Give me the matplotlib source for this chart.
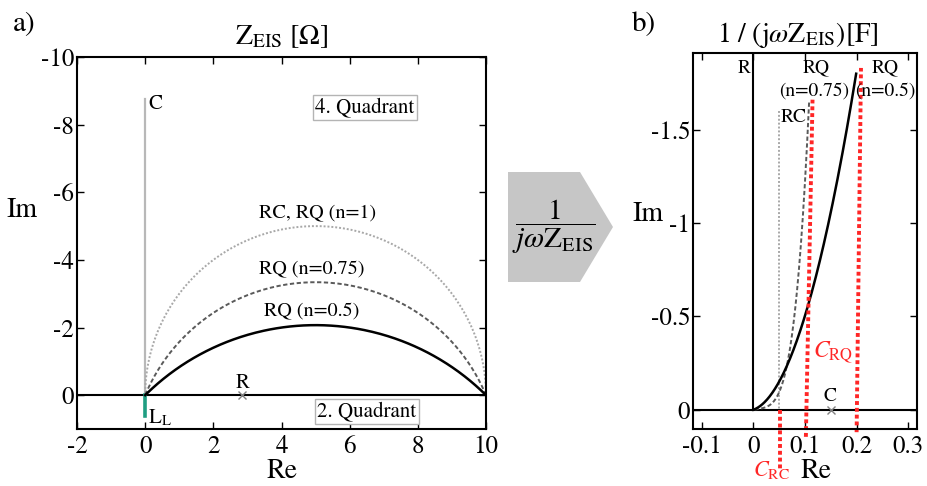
import numpy as np
import matplotlib.pyplot as plt
from matplotlib.patches import Polygon

plt.rcParams['font.family'] = 'STIXGeneral'
plt.rcParams['mathtext.fontset'] = 'stix'
plt.rcParams['axes.unicode_minus'] = False

# Parameter der Ersatzschaltbilder
R = 10.0
n_rq = [1.0, 0.75, 0.5]
Q_rq = [0.05, 0.0584, 0.0704]
labels_rq = ['RC, RQ (n=1)', 'RQ (n=0.75)', 'RQ (n=0.5)']
w_min_adm = 0.0625

C_top = -8.75        # Kapazitaet (Nyquist), Ende der Linie
L_bottom = 0.62      # Induktivitaet
R_marker_z = 2.85
C_marker_adm = 0.15

# C-Linien im Admittanzplot (Re, Im) Anfang/Ende
c_rc_line = ([0.0518, 0.0518], [0.0, 0.32])
c_rq075_line = ([0.1017, 0.1146], [0.145, -1.66])
c_rq05_line = ([0.2, 0.2085], [0.12, -1.83])

xt_z = [-2, 0, 2, 4, 6, 8, 10]
yt_z = [-10, -8, -6, -4, -2, 0]
xt_adm = [-0.1, 0, 0.1, 0.2, 0.3]
xtl_adm = ['-0.1', '0', '0.1', '0.2', '0.3']
yt_adm = [-1.5, -1, -0.5, 0]
ytl_adm = ['-1.5', '-1', '-0.5', '0']


def z_rq(w, r, q, n):
    return r / (1 + r * q * (1j * w) ** n)


colors = ['#a8a8a8', '#5a5a5a', 'k']
styles = [(0, (1, 1)), (0, (2.2, 1.3)), '-']
widths = [1.4, 1.4, 1.8]
red = '#ff2626'

fig = plt.figure(figsize=(9.28, 4.86), dpi=100)
ax1 = fig.add_axes([77 / 928, 57 / 486, 409 / 928, 372 / 486])
ax2 = fig.add_axes([693 / 928, 57 / 486, 224 / 928, 376 / 486])

w_z = np.logspace(-8, 8, 800)
w_adm = np.logspace(np.log10(w_min_adm), 7, 800)

# a) Nyquist-Darstellung Z_EIS
ax1.axhline(0, color='k', lw=1.5)
ax1.plot([0, 0], [0, C_top], color='#b8b8b8', lw=1.6)
ax1.plot([0, 0], [0, L_bottom], color='#1f9e82', lw=2.6)
for n, q, c, ls, lw in zip(n_rq, Q_rq, colors, styles, widths):
    z = z_rq(w_z, R, q, n)
    ax1.plot(z.real, z.imag, color=c, ls=ls, lw=lw)
ax1.plot(R_marker_z, 0, 'x', color='#808080', ms=6, mew=1)

ax1.text(0.08, -8.6, 'C', fontsize=15, va='center', ha='left')
ax1.text(5.07, -5.4, labels_rq[0], fontsize=14.5, ha='center', va='center')
ax1.text(4.9, -3.7, labels_rq[1], fontsize=14.5, ha='center', va='center')
ax1.text(4.9, -2.47, labels_rq[2], fontsize=14.5, ha='center', va='center')
ax1.text(2.86, -0.36, 'R', fontsize=15, ha='center', va='center')
ax1.text(0.08, 0.68, r'L$_\mathrm{L}$', fontsize=15, ha='left', va='center',
         clip_on=True)
box = dict(boxstyle='square,pad=0.12', fc='white', ec='#b4b4b4', lw=1)
ax1.text(6.45, -8.52, '4. Quadrant', fontsize=15, ha='center', va='center',
         bbox=box)
ax1.text(6.51, 0.47, '2. Quadrant', fontsize=15, ha='center', va='center',
         bbox=box)

ax1.set_xlim(-2, 10)
ax1.set_ylim(1, -10)
ax1.set_xticks(xt_z)
ax1.set_yticks(yt_z)
ax1.set_title(r'$\mathrm{Z_{EIS}}\ [\Omega]$', fontsize=20, pad=9)
ax1.set_xlabel('Re', fontsize=20, labelpad=0)
ax1.set_ylabel('Im', fontsize=20, rotation=0)
ax1.yaxis.set_label_coords(-0.134, 0.553)

# b) 1/(j w Z_EIS)
ax2.axhline(0, color='k', lw=1.5)
ax2.plot([0, 0], [0, -1.9], color='k', lw=1.5)
for n, q, c, ls, lw in zip(n_rq, Q_rq, colors, styles, widths):
    a = 1 / (1j * w_adm * z_rq(w_adm, R, q, n))
    ax2.plot(a.real, a.imag, color=c, ls=ls, lw=lw)
for xs, ys in (c_rc_line, c_rq075_line, c_rq05_line):
    ax2.plot(xs, ys, color=red, ls=(0, (1, 0.75)), lw=2.8, clip_on=False)
ax2.plot(C_marker_adm, 0, 'x', color='#808080', ms=6, mew=1)

ax2.text(-0.005, -1.83, 'R', fontsize=14, ha='right', va='center')
ax2.text(0.122, -1.83, 'RQ', fontsize=14, ha='center', va='center')
ax2.text(0.1185, -1.705, '(n=0.75)', fontsize=14, ha='center', va='center')
ax2.text(0.256, -1.83, 'RQ', fontsize=14, ha='center', va='center')
ax2.text(0.255, -1.705, '(n=0.5)', fontsize=14, ha='center', va='center')
ax2.text(0.0785, -1.565, 'RC', fontsize=14, ha='center', va='center')
ax2.text(0.148, -0.07, 'C', fontsize=14, ha='center', va='center')
ax2.text(0.116, -0.305, r'$C_{\mathrm{RQ}}$', fontsize=17, color=red,
         ha='left', va='center')
ax2.text(0.0, 0.32, r'$C_{\mathrm{RC}}$', fontsize=16, color=red,
         ha='left', va='center', clip_on=False)

ax2.set_xlim(-0.117, 0.317)
ax2.set_ylim(0.103, -1.91)
ax2.set_xticks(xt_adm, xtl_adm)
ax2.set_yticks(yt_adm, ytl_adm)
ax2.set_title(r'$1\ /\ (\mathrm{j}\omega\mathrm{Z_{EIS}})[\mathrm{F}]$',
              fontsize=20, pad=8, x=0.47)
ax2.set_xlabel('Re', fontsize=20, labelpad=0, x=0.55)
ax2.set_ylabel('Im', fontsize=20, rotation=0)
ax2.yaxis.set_label_coords(-0.203, 0.536)

for ax in (ax1, ax2):
    ax.tick_params(direction='in', top=True, right=True, length=5, width=1,
                   labelsize=18)
    ax.tick_params(axis='x', pad=4)
    ax.tick_params(axis='y', pad=2)
    for sp in ax.spines.values():
        sp.set_linewidth(1.5)

# Pfeil zwischen den Diagrammen
def px(x, y):
    return (x / 928, 1 - y / 486)


arrow = Polygon([px(508, 172), px(580, 172), px(613, 227), px(580, 282),
                 px(508, 282)], closed=True, transform=fig.transFigure,
                fc='#c6c6c6', ec='none')
fig.add_artist(arrow)
fig.text(*px(554, 227), r'$\dfrac{1}{j\omega\mathrm{Z_{EIS}}}$', fontsize=21,
         ha='center', va='center')

fig.text(*px(13, 24), 'a)', fontsize=21, ha='left', va='center')
fig.text(*px(632, 24), 'b)', fontsize=21, ha='left', va='center')

fig.savefig('out.png', dpi=100)
